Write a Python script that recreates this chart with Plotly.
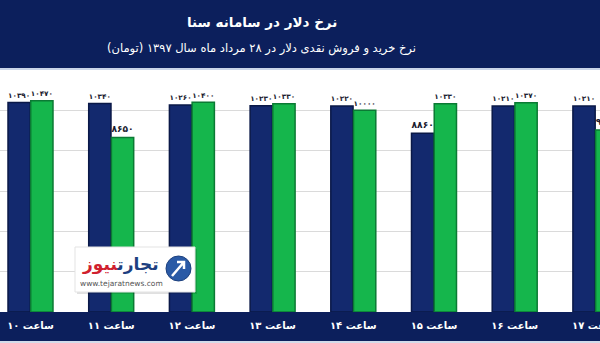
import plotly.graph_objects as go

# Hourly dollar rates (toman) on the Sana system
hours = ["ساعت ۱۰", "ساعت ۱۱", "ساعت ۱۲", "ساعت ۱۳", "ساعت ۱۴", "ساعت ۱۵", "ساعت ۱۶", "ساعت ۱۷"]
buy_rate = [10390, 10340, 10260, 10230, 10220, 8860, 10210, 10210]
sell_rate = [10470, 8650, 10400, 10330, 10000, 10330, 10370, 9030]

title_text = "نرخ دلار در سامانه سنا"
subtitle_text = "نرخ خرید و فروش نقدی دلار در ۲۸ مرداد ماه سال ۱۳۹۷ (تومان)"

W, H = 600, 343
FONT = "DejaVu Sans"
NAVY = "#0c1f5c"
BAR_BLUE = "#13296e"
BAR_GREEN = "#15b64c"

FA_DIGITS = str.maketrans("0123456789", "۰۱۲۳۴۵۶۷۸۹")


def fa(v):
    return str(v).translate(FA_DIGITS)


def px(x):
    return x / W


def py(y):
    return 1 - y / H


label_font = dict(family=FONT, size=12.5, color="#1b1b2f", weight="bold")

fig = go.Figure()
fig.add_trace(go.Bar(
    x=hours, y=buy_rate, name="خرید",
    marker=dict(color=BAR_BLUE, line=dict(color="#0a1847", width=1.5)),
    text=[fa(v) for v in buy_rate], textposition="outside",
    textfont=label_font, cliponaxis=True,
))
fig.add_trace(go.Bar(
    x=hours, y=sell_rate, name="فروش",
    marker=dict(color=BAR_GREEN, line=dict(color="#0b7a34", width=1.5)),
    text=[fa(v) for v in sell_rate], textposition="outside",
    textfont=label_font, cliponaxis=True,
))

shapes = [
    # header band
    dict(type="rect", xref="paper", yref="paper", x0=0, x1=1, y0=py(68), y1=1,
         fillcolor=NAVY, line=dict(width=0), layer="below"),
    dict(type="line", xref="paper", yref="paper", x0=0, x1=1, y0=py(69), y1=py(69),
         line=dict(color="#b9c7e2", width=1.5), layer="below"),
    # category band under the axis
    dict(type="rect", xref="paper", yref="paper", x0=0, x1=1, y0=py(341), y1=py(312),
         fillcolor=NAVY, line=dict(width=0), layer="below"),
    dict(type="rect", xref="paper", yref="paper", x0=0, x1=1, y0=0, y1=py(341),
         fillcolor="#d3dbea", line=dict(width=0), layer="below"),
    # logo card
    dict(type="rect", xref="paper", yref="paper", x0=px(77), x1=px(197), y0=py(294), y1=py(249),
         fillcolor="rgba(0,0,0,0.12)", line=dict(width=0), layer="above"),
    dict(type="rect", xref="paper", yref="paper", x0=px(75), x1=px(195), y0=py(292), y1=py(247),
         fillcolor="white", line=dict(color="#e3e3e3", width=1), layer="above"),
    dict(type="circle", xref="paper", yref="paper", x0=px(166), x1=px(191), y0=py(281), y1=py(256),
         fillcolor="#2a5aa6", line=dict(color="#1b3f7d", width=1), layer="above"),
    dict(type="path", xref="paper", yref="paper",
         path=f"M {px(172)} {py(276)} L {px(184)} {py(262)} M {px(177)} {py(262)} L {px(184)} {py(262)} L {px(184)} {py(269)}",
         line=dict(color="white", width=2.5), layer="above"),
]

logo_text = ("<span style='color:#1d3f80'>تجارت</span>"
             "<span style='color:#d0202e'>نیوز</span>")

annotations = [
    dict(text="\u200f" + title_text + "\u200f", x=px(261.5), y=py(22), xref="paper", yref="paper",
         showarrow=False, xanchor="center", yanchor="middle",
         font=dict(family=FONT, size=13.5, color="white", weight="bold")),
    dict(text="\u200f" + subtitle_text + "\u200f", x=px(261.5), y=py(49), xref="paper", yref="paper",
         showarrow=False, xanchor="center", yanchor="middle",
         font=dict(family=FONT, size=11.5, color="white")),
    dict(text=logo_text, x=px(120), y=py(264), xref="paper", yref="paper",
         showarrow=False, xanchor="center", yanchor="middle",
         font=dict(family=FONT, size=17, color="#1d3f80", weight="bold")),
    dict(text="www.tejaratnews.com", x=px(121), y=py(283), xref="paper", yref="paper",
         showarrow=False, xanchor="center", yanchor="middle",
         font=dict(family=FONT, size=7.5, color="#555555")),
]

fig.update_layout(
    width=W, height=H, autosize=False,
    margin=dict(l=0, r=0, t=0, b=0, autoexpand=False),
    paper_bgcolor="white", plot_bgcolor="white",
    barmode="group", bargap=0.437, bargroupgap=0.02,
    showlegend=False,
    shapes=shapes, annotations=annotations,
)
fig.update_xaxes(
    type="category", range=[-0.378, 7.057], domain=[0, 1], automargin=False,
    showgrid=False, zeroline=False, showline=False, ticks="",
    tickfont=dict(family=FONT, size=10, color="white", weight="bold"),
    ticklabelstandoff=6,
)
fig.update_yaxes(
    range=[0, 12000], dtick=2000, domain=[py(312), py(70)], automargin=False,
    showgrid=True, gridcolor="#dadada", gridwidth=1,
    zeroline=False, showline=False, showticklabels=False, ticks="",
)

fig.write_html("out.html", config={"displayModeBar": False})
